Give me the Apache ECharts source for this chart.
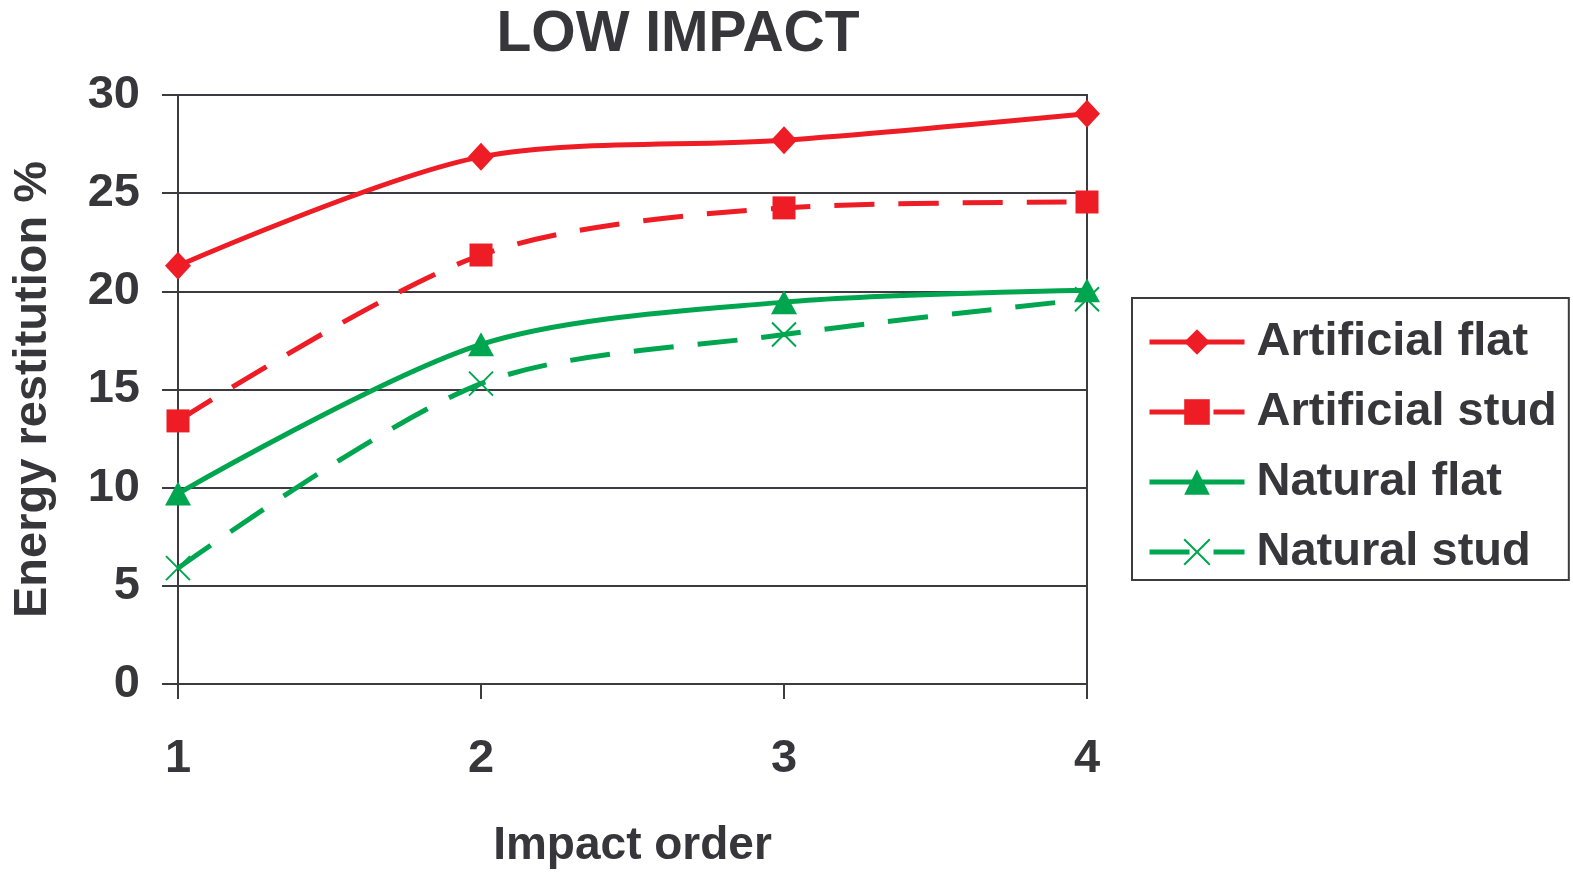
<!DOCTYPE html>
<html>
<head>
<meta charset="utf-8">
<script src="https://cdn.jsdelivr.net/npm/echarts@6/dist/echarts.min.js"></script>
<style>html,body{margin:0;padding:0;background:#fff}#c{width:1573px;height:874px}</style>
</head>
<body>
<div id="c"></div>
<script>
const impactOrder = [1, 2, 3, 4];
const artificialFlat = [21.3, 26.85, 27.7, 29.05];
const artificialStud = [13.4, 21.85, 24.25, 24.55];
const naturalFlat = [9.7, 17.3, 19.45, 20.05];
const naturalStud = [5.9, 15.3, 17.8, 19.6];
const seriesNames = ['Artificial flat', 'Artificial stud', 'Natural flat', 'Natural stud'];

const RED = '#ee1d25', GREEN = '#00a64f', TXT = '#36363b', AX = '#3c3c40';
const FONT = '"Liberation Sans", Arial, sans-serif';
const pairs = v => impactOrder.map((x, i) => [x, v[i]]);
const dash = [40, 24];
const crossPath = 'path://M0,0L10,10M10,0L0,10';

const chart = echarts.init(document.getElementById('c'), null, {renderer: 'canvas'});
chart.setOption({
  animation: false,
  backgroundColor: '#fff',
  title: {
    text: 'LOW IMPACT', left: 673, top: 2, textAlign: 'center',
    textStyle: {fontFamily: FONT, fontWeight: 'bold', fontSize: 57, color: TXT}
  },
  grid: {left: 178, right: 486, top: 95, bottom: 189, show: true, borderColor: AX, borderWidth: 2, backgroundColor: 'transparent'},
  legend: {
    orient: 'vertical', left: 1132, top: 298,
    padding: [20, 12, 4, 15],
    itemWidth: 95, itemHeight: 32, itemGap: 22,
    borderColor: AX, borderWidth: 2,
    lineStyle: {width: 5},
    data: seriesNames,
    textStyle: {fontFamily: FONT, fontWeight: 'bold', fontSize: 47, color: TXT, lineHeight: 48, padding: [0, 0, 0, 7]}
  },
  xAxis: {
    type: 'value', min: 1, max: 4, interval: 1,
    name: 'Impact order', nameLocation: 'middle', nameGap: 139,
    nameTextStyle: {fontFamily: FONT, fontWeight: 'bold', fontSize: 46, color: TXT},
    axisLine: {show: true, lineStyle: {color: AX, width: 2}},
    axisTick: {show: true, length: 15, lineStyle: {color: AX, width: 2}},
    axisLabel: {fontFamily: FONT, fontWeight: 'bold', fontSize: 47, color: TXT, margin: 52},
    splitLine: {show: false}
  },
  yAxis: {
    type: 'value', min: 0, max: 30, interval: 5,
    name: 'Energy restitution %', nameLocation: 'middle', nameGap: 121,
    nameTextStyle: {fontFamily: FONT, fontWeight: 'bold', fontSize: 47, color: TXT},
    axisLine: {show: true, lineStyle: {color: AX, width: 2}},
    axisTick: {show: true, length: 16, lineStyle: {color: AX, width: 2}},
    axisLabel: {fontFamily: FONT, fontWeight: 'bold', fontSize: 47, color: TXT, margin: 38},
    splitLine: {show: true, lineStyle: {color: AX, width: 2}}
  },
  series: [
    {name: seriesNames[0], type: 'line', data: pairs(artificialFlat), smooth: 0.3,
     symbol: 'diamond', symbolSize: [26, 28], color: RED,
     lineStyle: {color: RED, width: 5}, itemStyle: {color: RED}},
    {name: seriesNames[1], type: 'line', data: pairs(artificialStud), smooth: 0.3,
     symbol: 'rect', symbolSize: 23, color: RED,
     lineStyle: {color: RED, width: 5, type: dash}, itemStyle: {color: RED}},
    {name: seriesNames[2], type: 'line', data: pairs(naturalFlat), smooth: 0.3,
     symbol: 'triangle', symbolSize: [26, 24], color: GREEN,
     lineStyle: {color: GREEN, width: 5}, itemStyle: {color: GREEN}},
    {name: seriesNames[3], type: 'line', data: pairs(naturalStud), smooth: 0.3,
     symbol: crossPath, symbolSize: 24, color: GREEN,
     lineStyle: {color: GREEN, width: 5, type: dash},
     itemStyle: {color: 'rgba(0,0,0,0)', borderColor: GREEN, borderWidth: 2}}
  ]
});
</script>
</body>
</html>
